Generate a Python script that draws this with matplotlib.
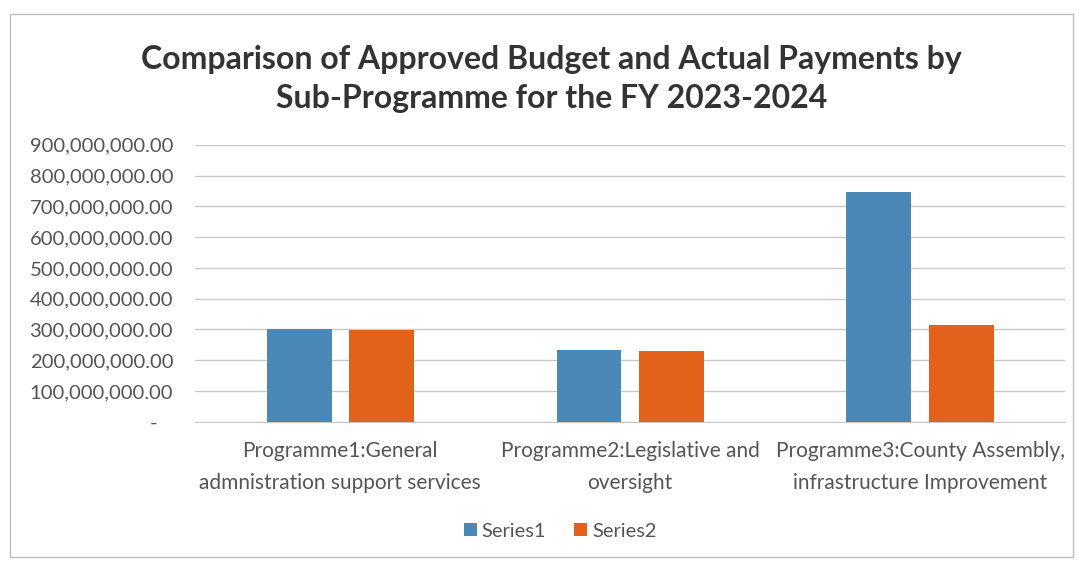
import matplotlib
matplotlib.use("Agg")
import matplotlib.pyplot as plt
from matplotlib.patches import Rectangle
import numpy as np

categories = ["Programme1:General\nadmnistration support services",
              "Programme2:Legislative and\noversight",
              "Programme3:County Assembly,\ninfrastructure Improvement"]
series1 = [302e6, 234e6, 746e6]
series2 = [298e6, 231e6, 315e6]
series_names = ["Series1", "Series2"]
yticks = [0, 100e6, 200e6, 300e6, 400e6, 500e6, 600e6, 700e6, 800e6, 900e6]
title = "Comparison of Approved Budget and Actual Payments by\nSub-Programme for the FY 2023-2024"

plt.rcParams['font.family'] = ['Lato', 'DejaVu Sans']

fig = plt.figure(figsize=(10.79, 5.61), dpi=100)
ax = fig.add_axes([0.181, 0.248, 0.806, 0.494])

x = np.arange(len(categories))
w = 0.224
gap = 0.06
c1 = "#4a88b8"
c2 = "#e2621b"
ax.bar(x - (w + gap) / 2, series1, w, color=c1, label=series_names[0], zorder=3)
ax.bar(x + (w + gap) / 2, series2, w, color=c2, label=series_names[1], zorder=3)

ax.set_xlim(-0.5, 2.5)
ax.set_ylim(0, 900e6)
ax.set_yticks(yticks)
labels = ["-   " if v == 0 else f"{v:,.2f}" for v in yticks]
ax.set_yticklabels(labels, fontsize=14.6, color="#555555")
ax.set_xticks(x)
ax.set_xticklabels(categories, fontsize=15, color="#555555", linespacing=1.7)
ax.tick_params(axis='both', length=0)
ax.tick_params(axis='x', pad=14)
ax.tick_params(axis='y', pad=16)
ax.grid(axis='y', color="#c8c8c8", linewidth=1, zorder=0)
for s in ["top", "right", "left"]:
    ax.spines[s].set_visible(False)
ax.spines["bottom"].set_color("#c8c8c8")

fig.text(0.511, 0.860, title, ha="center", va="center", fontsize=23, fontweight="bold",
         color="#333333", linespacing=1.42)

leg = fig.legend(loc="center", bbox_to_anchor=(0.519, 0.053), ncol=2, frameon=False,
                 fontsize=14.4, handlelength=0.65, handleheight=0.65, columnspacing=1.4,
                 handletextpad=0.25)
for t in leg.get_texts():
    t.set_color("#555555")

fig.patches.append(Rectangle((0.009, 0.007), 0.985, 0.968, transform=fig.transFigure,
                             fill=False, edgecolor="#bdbdbd", linewidth=1))

fig.savefig("out.png", dpi=100)
